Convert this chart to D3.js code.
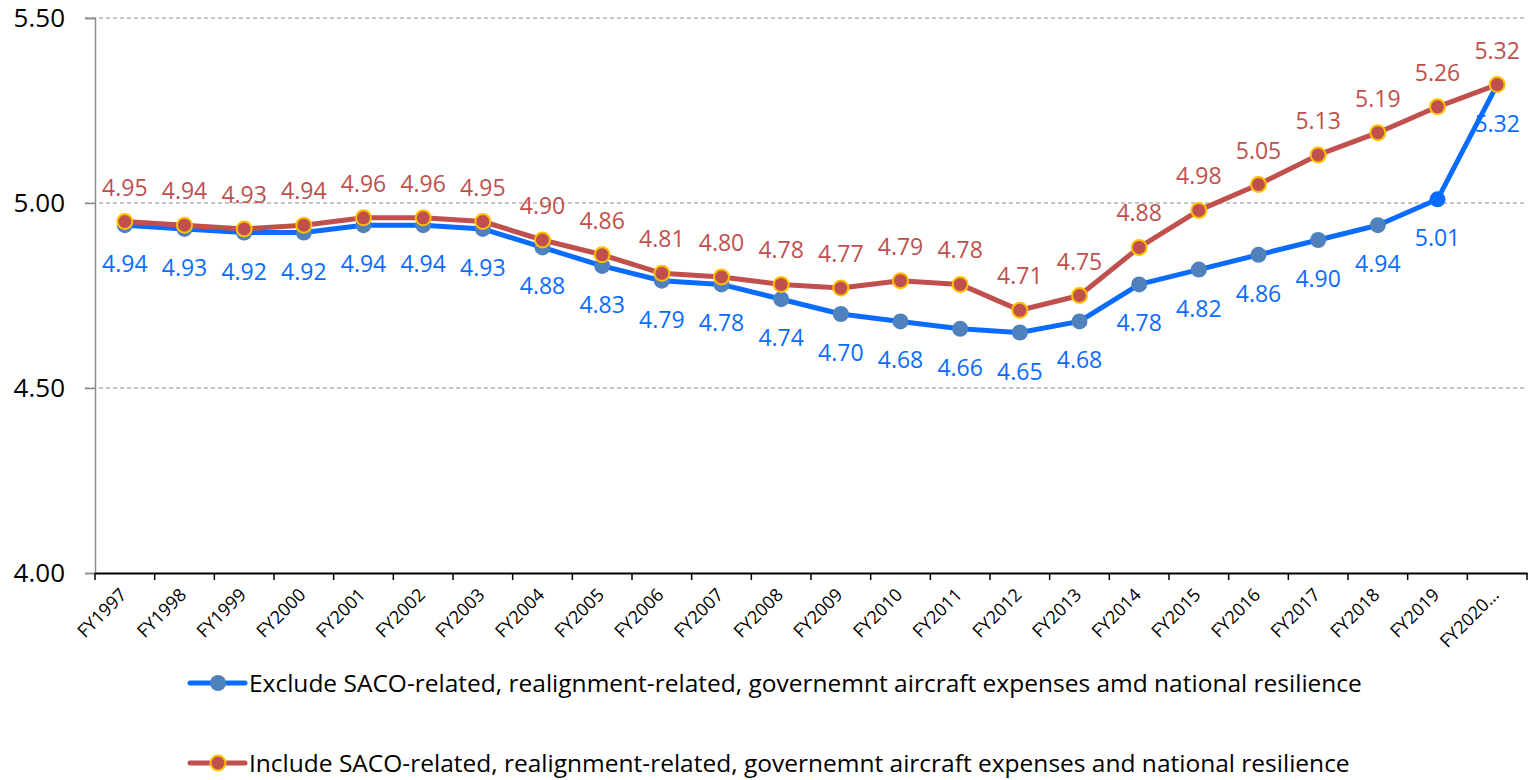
<!DOCTYPE html>
<html><head><meta charset="utf-8">
<script src="https://cdn.jsdelivr.net/npm/d3@7"></script>
<style>body{margin:0;background:#fff}svg{display:block}text{font-family:"Open Sans",sans-serif}</style>
</head><body><svg id="c" width="1531" height="780"></svg>
<script>
const categories = ["FY1997","FY1998","FY1999","FY2000","FY2001","FY2002","FY2003","FY2004","FY2005","FY2006","FY2007","FY2008","FY2009","FY2010","FY2011","FY2012","FY2013","FY2014","FY2015","FY2016","FY2017","FY2018","FY2019","FY2020…"];
const excludeValues = [4.94,4.93,4.92,4.92,4.94,4.94,4.93,4.88,4.83,4.79,4.78,4.74,4.70,4.68,4.66,4.65,4.68,4.78,4.82,4.86,4.90,4.94,5.01,5.32];
const includeValues = [4.95,4.94,4.93,4.94,4.96,4.96,4.95,4.90,4.86,4.81,4.80,4.78,4.77,4.79,4.78,4.71,4.75,4.88,4.98,5.05,5.13,5.19,5.26,5.32];
const yTicks = [4.00,4.50,5.00,5.50];
const seriesNames = ["Exclude SACO-related, realignment-related, governemnt aircraft expenses amd national resilience","Include SACO-related, realignment-related, governemnt aircraft expenses and national resilience"];

const svg = d3.select("#c");
const L=95,R=1527,T=18,B=573;
const x = d3.scaleBand().domain(categories).range([L,R]);
const y = d3.scaleLinear().domain([4,5.5]).range([B,T]);
const cx = d => x(d)+x.bandwidth()/2;

// grid
svg.append("g").selectAll("line").data(yTicks.slice(1)).join("line")
  .attr("x1",L-10).attr("x2",R).attr("y1",d=>y(d)).attr("y2",d=>y(d))
  .attr("stroke","#8c8c8c").attr("stroke-width",1.2).attr("stroke-dasharray","4,3");
// y axis
const ya = svg.append("g").attr("transform",`translate(${L},0)`)
  .call(d3.axisLeft(y).tickValues(yTicks).tickFormat(d3.format(".2f")).tickSize(10).tickPadding(20));
ya.select(".domain").attr("stroke","#8c8c8c").attr("stroke-width",1.5);
ya.selectAll(".tick line").attr("stroke","#8c8c8c").attr("stroke-width",1.5);
ya.selectAll("text").attr("font-size",26).attr("fill","#000");
// x axis
const xa = svg.append("g").attr("transform",`translate(0,${B})`)
  .call(d3.axisBottom(x).tickSize(0));
xa.select(".domain").attr("stroke","#000").attr("stroke-width",2);
xa.selectAll("text").attr("font-size",18).attr("fill","#000")
  .attr("text-anchor","end").attr("x",0).attr("y",0).attr("dy",0)
  .attr("transform","translate(3,23) rotate(-45)");
svg.append("g").selectAll("line").data(d3.range(categories.length+1)).join("line")
  .attr("x1",i=>L+i*x.step()).attr("x2",i=>L+i*x.step()).attr("y1",B).attr("y2",B+7)
  .attr("stroke","#000").attr("stroke-width",1.5);

const line = d3.line().x((d,i)=>cx(categories[i])).y(d=>y(d));
// blue series
svg.append("path").datum(excludeValues).attr("d",line).attr("fill","none")
  .attr("stroke","#0A6CFF").attr("stroke-width",5).attr("stroke-linejoin","round");
svg.append("g").selectAll("circle").data(excludeValues).join("circle")
  .attr("cx",(d,i)=>cx(categories[i])).attr("cy",d=>y(d)).attr("r",8)
  .attr("fill",(d,i)=>i===22?"#0A6CFF":"#4F81BD");
// red series
svg.append("path").datum(includeValues).attr("d",line).attr("fill","none")
  .attr("stroke","#C0504D").attr("stroke-width",5).attr("stroke-linejoin","round");
svg.append("g").selectAll("circle").data(includeValues).join("circle")
  .attr("cx",(d,i)=>cx(categories[i])).attr("cy",d=>y(d)).attr("r",7.5)
  .attr("fill","#C0504D").attr("stroke","#FFC000").attr("stroke-width",2);
// labels
svg.append("g").selectAll("text").data(excludeValues).join("text")
  .attr("x",(d,i)=>cx(categories[i])).attr("y",d=>y(d)+39).attr("dy","0.35em")
  .attr("text-anchor","middle").attr("font-size",23).attr("fill","#0A6CFF")
  .text(d=>d.toFixed(2));
svg.append("g").selectAll("text").data(includeValues).join("text")
  .attr("x",(d,i)=>cx(categories[i])).attr("y",d=>y(d)-34).attr("dy","0.35em")
  .attr("text-anchor","middle").attr("font-size",23).attr("fill","#C0504D")
  .text(d=>d.toFixed(2));

// legend
const leg = [{c:"#0A6CFF",m:"#4F81BD",s:null,y:683},{c:"#C0504D",m:"#C0504D",s:"#FFC000",y:763}];
leg.forEach((l,i)=>{
  const g=svg.append("g");
  g.append("line").attr("x1",190).attr("x2",245).attr("y1",l.y).attr("y2",l.y).attr("stroke",l.c).attr("stroke-width",5).attr("stroke-linecap","round");
  g.append("circle").attr("cx",218).attr("cy",l.y).attr("r",l.s?7.5:8).attr("fill",l.m).attr("stroke",l.s||"none").attr("stroke-width",2);
  g.append("text").attr("x",249).attr("y",l.y).attr("dy","0.35em").attr("font-size",24.5).attr("fill","#000").text(seriesNames[i]);
});
</script></body></html>
